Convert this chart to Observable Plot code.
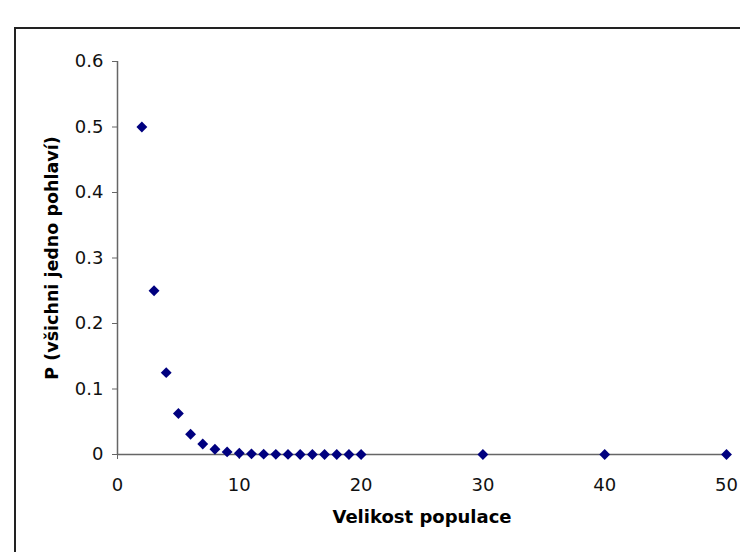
<!DOCTYPE html>
<html>
<head>
<meta charset="utf-8">
<script src="https://cdn.jsdelivr.net/npm/d3@7"></script>
<script src="https://cdn.jsdelivr.net/npm/@observablehq/plot@0.6"></script>
<style>
  html, body { margin: 0; padding: 0; background: #fff; overflow: hidden; }
  #wrap { position: relative; width: 740px; height: 552px; }
  #frame { position: absolute; left: 14px; top: 27px; width: 740px; height: 600px;
           border-left: 2px solid #222; border-top: 2px solid #222; }
  #chart { position: absolute; left: 0; top: 0; }
</style>
</head>
<body>
<div id="wrap"><div id="frame"></div><div id="chart"></div></div>
<script>
const populationSize = [2, 3, 4, 5, 6, 7, 8, 9, 10, 11, 12, 13, 14, 15, 16, 17, 18, 19, 20, 30, 40, 50];
const probability = [0.5, 0.25, 0.125, 0.0625, 0.031, 0.016, 0.008, 0.004, 0.002, 0.001, 0.0005, 0.00025, 0.00012, 0.00006, 0.00003, 0.000015, 0.000008, 0.000004, 0.000002, 0, 0, 0];
const xTicks = [0, 10, 20, 30, 40, 50];
const yTicks = [0, 0.1, 0.2, 0.3, 0.4, 0.5, 0.6];
const xLabel = "Velikost populace";
const yLabel = "P (všichni jedno pohlaví)";

const data = populationSize.map((n, i) => ({n, p: probability[i]}));

const chart = Plot.plot({
  width: 740,
  height: 552,
  marginLeft: 117,
  marginRight: 14,
  marginTop: 61,
  marginBottom: 98,
  style: {fontFamily: "'DejaVu Sans', sans-serif", fontSize: "18px", color: "#000", background: "transparent"},
  x: {domain: [0, 50]},
  y: {domain: [0, 0.6]},
  marks: [
    Plot.ruleX([0], {y1: 0, y2: 0.6, stroke: "#666", strokeWidth: 1.5}),
    Plot.ruleY([0], {x1: 0, x2: 50, stroke: "#666", strokeWidth: 1.5}),
    Plot.axisY({ticks: yTicks, tickSize: 5, tickPadding: 9, label: null, stroke: "#666", tickFormat: d => String(d), fill: "#111", fontSize: 18}),
    Plot.axisX({ticks: xTicks, tickSize: 5, tickPadding: 19, label: null, stroke: "#666", fill: "#111", fontSize: 18}),
    Plot.dot(data, {x: "n", y: "p", symbol: "diamond2", r: 4.9, fill: "#00007f", stroke: "none"}),
    Plot.text([yLabel], {frameAnchor: "left", dx: -65, rotate: -90, fontWeight: "bold", fontSize: 17.5, fill: "#000", textAnchor: "middle"}),
    Plot.text([xLabel], {frameAnchor: "bottom", dy: 68, fontWeight: "bold", fontSize: 18, fill: "#000", textAnchor: "middle"})
  ]
});
document.getElementById("chart").appendChild(chart);
</script>
</body>
</html>
